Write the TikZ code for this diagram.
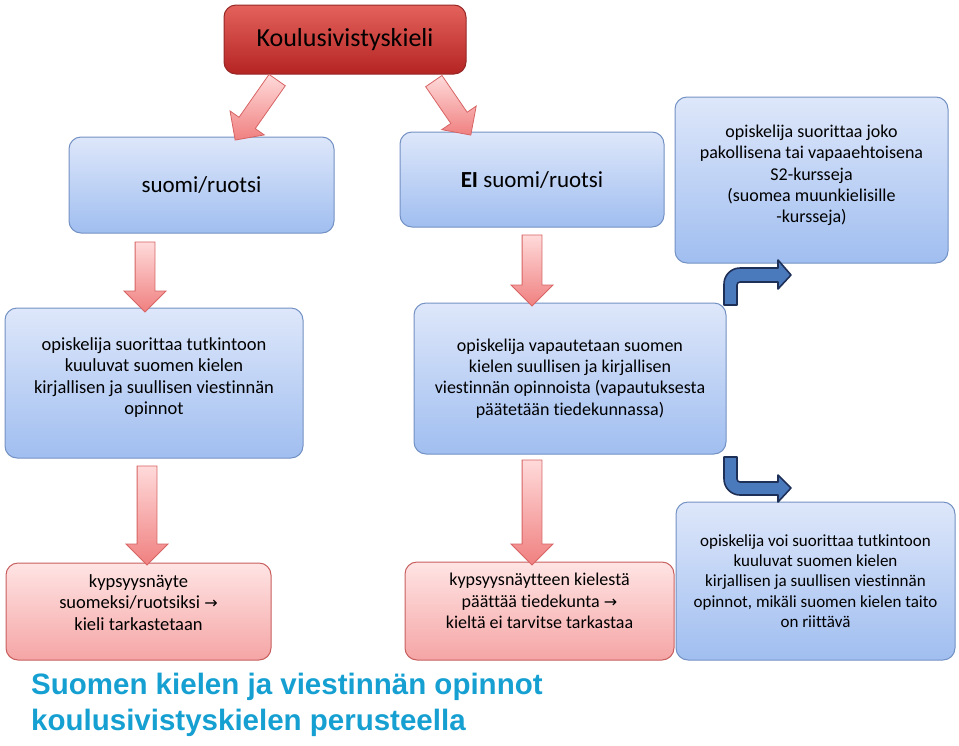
\documentclass[tikz,border=0pt]{standalone}
\usepackage{fontspec}
\setmainfont{Carlito}[Ligatures=NoCommon]
\newfontfamily\titlefont{Liberation Sans}
\newfontfamily\symfont{DejaVu Sans}
\usetikzlibrary{shapes.arrows,calc}
\definecolor{bluetop}{RGB}{222,231,250}
\definecolor{bluebot}{RGB}{160,190,240}
\definecolor{blueline}{RGB}{115,145,195}
\definecolor{redtop}{RGB}{228,98,92}
\definecolor{redbot}{RGB}{180,36,34}
\definecolor{redline}{RGB}{150,40,38}
\definecolor{pinktop}{RGB}{255,228,228}
\definecolor{pinkbot}{RGB}{245,165,165}
\definecolor{pinkline}{RGB}{200,95,95}
\definecolor{arrtop}{RGB}{255,218,218}
\definecolor{arrbot}{RGB}{240,128,128}
\definecolor{arrline}{RGB}{215,100,100}
\definecolor{bentfill}{RGB}{75,122,188}
\definecolor{bentline}{RGB}{30,48,88}
\definecolor{titleblue}{RGB}{22,160,210}
\newcommand{\ra}{{\symfont\fontsize{16}{16}\selectfont →}}

\begin{document}
\begin{tikzpicture}[x=1pt,y=-1pt,
    box/.style={rounded corners=12pt, line width=1pt, align=center, inner sep=0pt,
      font=\fontsize{18}{21.3}\selectfont},
    bluebox/.style={box, draw=blueline, top color=bluetop, bottom color=bluebot},
    redbox/.style={box, draw=redline, top color=redtop, bottom color=redbot},
    pinkbox/.style={box, draw=pinkline, top color=pinktop, bottom color=pinkbot},
    pinkarrow/.style={single arrow, draw=arrline, line width=0.8pt, top color=arrtop,
      bottom color=arrbot, inner xsep=0pt, inner ysep=9.5pt, single arrow head extend=11pt,
      single arrow tip angle=90},
    bent/.style={draw=bentline, line width=1.6pt, fill=bentfill, line join=round}]
  \useasboundingbox (0,0) rectangle (959,745);

  % boxes
  \node[redbox, minimum width=242, minimum height=69, font=\fontsize{26}{30}\selectfont] (kieli) at (345,39.5) {Koulusivistyskieli};
  \node[bluebox, minimum width=265, minimum height=96, font=\fontsize{23}{27}\selectfont] (suomi) at (201.5,185) {suomi/ruotsi};
  \node[bluebox, minimum width=264, minimum height=95, font=\fontsize{23}{27}\selectfont] (eisuomi) at (532,179.5) {\textbf{EI} suomi/ruotsi};
  \node[bluebox, minimum width=273, minimum height=166, text depth=12.5pt] (kurssit) at (811.5,180) {opiskelija suorittaa joko\\pakollisena tai vapaaehtoisena\\S2-kursseja\\(suomea muunkielisille\\-kursseja)};
  \node[bluebox, minimum width=298, minimum height=150, text depth=14pt, font=\fontsize{18.5}{21.6}\selectfont] (opinnot) at (154,383) {opiskelija suorittaa tutkintoon\\kuuluvat suomen kielen\\kirjallisen ja suullisen viestinnän\\opinnot};
  \node[bluebox, minimum width=312, minimum height=151] (vapaus) at (570,378.5) {opiskelija vapautetaan suomen\\kielen suullisen ja kirjallisen\\viestinnän opinnoista (vapautuksesta\\päätetään tiedekunnassa)};
  \node[pinkbox, minimum width=265, minimum height=97, text depth=18pt, font=\fontsize{18.5}{21.8}\selectfont] (tarkastus) at (138.5,611.5) {kypsyysnäyte\\suomeksi/ruotsiksi \ra\\kieli tarkastetaan};
  \node[pinkbox, minimum width=269, minimum height=98, text depth=20pt] (eitarkastus) at (539.5,611) {kypsyysnäytteen kielestä\\päättää tiedekunta \ra\\kieltä ei tarvitse tarkastaa};
  \node[bluebox, minimum width=279, minimum height=158, font=\fontsize{17}{20.2}\selectfont] (taito) at (815.5,581) {opiskelija voi suorittaa tutkintoon\\kuuluvat suomen kielen\\kirjallisen ja suullisen viestinnän\\opinnot, mikäli suomen kielen taito\\on riittävä};

  % pink block arrows
  \coordinate (a1s) at (280,76);  \coordinate (a1e) at (238,136);
  \coordinate (a2s) at (431,77);  \coordinate (a2e) at (468,131);
  \coordinate (a3s) at (145,237); \coordinate (a3e) at (145,307);
  \coordinate (a4s) at (532,230); \coordinate (a4e) at (532,301);
  \coordinate (a5s) at (147,461); \coordinate (a5e) at (147,560);
  \coordinate (a6s) at (532,455); \coordinate (a6e) at (532,560);
  \foreach \s/\e in {a1s/a1e,a2s/a2e,a3s/a3e,a4s/a4e,a5s/a5e,a6s/a6e}
    \path let \p1=($(\e)-(\s)$), \n1={veclen(\x1,\y1)}, \n2={atan2(\y1,\x1)} in
      node[pinkarrow, minimum height=\n1, rotate=\n2] at ($(\s)!0.5!(\e)$) {};

  % blue bent arrows
  \draw[bent] (724,305) [rounded corners=16pt]-- (724,268) [sharp corners]-- (778,268)
    -- (778,260) -- (791,275) -- (778,289) -- (778,282) [rounded corners=3pt]-- (737,282)
    [sharp corners]-- (737,305) -- cycle;
  \draw[bent] (724,457) [rounded corners=16pt]-- (724,495) [sharp corners]-- (778,495)
    -- (778,502) -- (791,488) -- (778,475) -- (778,482) [rounded corners=3pt]-- (737,482)
    [sharp corners]-- (737,457) -- cycle;

  % title
  \node[anchor=north west, align=left, inner sep=0pt, text=titleblue,
    font=\titlefont\bfseries\fontsize{29.5}{36}\selectfont] (otsikko) at (31,673)
    {Suomen kielen ja viestinnän opinnot\\koulusivistyskielen perusteella};
\end{tikzpicture}
\end{document}
